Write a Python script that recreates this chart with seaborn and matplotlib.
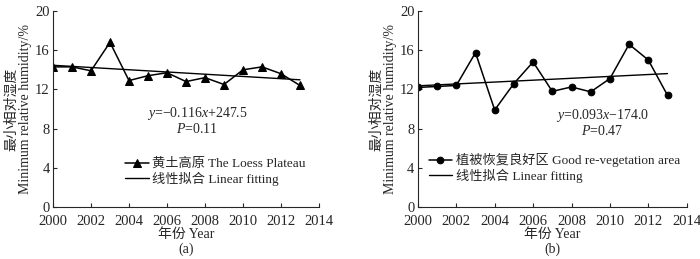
import matplotlib
matplotlib.use("Agg")
import matplotlib.pyplot as plt
import numpy as np
import pandas as pd
import seaborn as sns

# Data
years = list(range(2000, 2014))
loess = [14.3, 14.3, 13.9, 16.8, 12.9, 13.4, 13.7, 12.8, 13.2, 12.5, 14.0, 14.3, 13.6, 12.4]
good_veg = [12.2, 12.3, 12.4, 15.75, 9.9, 12.6, 14.8, 11.8, 12.25, 11.75, 13.1, 16.6, 15.0, 11.4]

labels_a = ["黄土高原 The Loess Plateau", "线性拟合 Linear fitting"]
labels_b = ["植被恢复良好区 Good re-vegetation area", "线性拟合 Linear fitting"]
eq_a = "$y$=\u22120.116$x$+247.5"
eq_b = "$y$=0.093$x$\u2212174.0"
p_a = "$P$=0.11"
p_b = "$P$=0.47"

sns.set_style("ticks")
plt.rcParams["font.family"] = ["Liberation Serif", "Noto Sans CJK SC"]
plt.rcParams["mathtext.fontset"] = "custom"
plt.rcParams["mathtext.it"] = "Liberation Serif:italic"
plt.rcParams["mathtext.rm"] = "Liberation Serif"
plt.rcParams["font.size"] = 10
plt.rcParams["xtick.direction"] = "in"
plt.rcParams["ytick.direction"] = "in"
plt.rcParams["axes.unicode_minus"] = True

fig = plt.figure(figsize=(7.0, 2.59), dpi=100)
ax_a = fig.add_axes([0.0757, 0.2008, 0.380, 0.7567])
ax_b = fig.add_axes([0.597, 0.2008, 0.384, 0.7567])


def draw_panel(ax, values, marker, msize, labels, eq, ptxt, eq_pos, legend_anchor, tag):
    df = pd.DataFrame({"year": years, "value": values})
    slope, icpt = np.polyfit(df["year"], df["value"], 1)
    df["fit"] = slope * df["year"] + icpt

    sns.lineplot(data=df, x="year", y="value", ax=ax, color="black", lw=1.1,
                 marker=marker, markersize=msize, markeredgecolor="black",
                 label=labels[0])
    sns.lineplot(data=df, x="year", y="fit", ax=ax, color="black", lw=1.0,
                 label=labels[1])

    ax.set_xlim(2000, 2014)
    ax.set_ylim(0, 20)
    ax.set_xticks(range(2000, 2015, 2))
    ax.set_yticks(range(0, 21, 4))
    ax.tick_params(length=3, width=0.8, labelsize=10.5)
    ax.tick_params(axis="x", pad=5.5)
    ax.tick_params(axis="y", pad=2.5)
    for s in ["top", "right"]:
        ax.spines[s].set_visible(False)
    ax.spines["left"].set_linewidth(0.8)
    ax.spines["bottom"].set_linewidth(0.8)

    ax.set_xlabel("年份 Year", fontsize=10, labelpad=0)
    ax.set_ylabel("最小相对湿度\nMinimum relative humidity/%", fontsize=10,
                  labelpad=2, linespacing=1.1)
    ax.text(eq_pos[0], eq_pos[1], eq, ha="center", va="center", fontsize=10)
    ax.text(eq_pos[0], eq_pos[1] - 1.5, ptxt, ha="center", va="center", fontsize=10)
    ax.text(0.5, -0.215, tag, transform=ax.transAxes, ha="center", va="center", fontsize=10)

    ax.legend(loc="lower left", bbox_to_anchor=legend_anchor, frameon=False,
              handlelength=1.8, handletextpad=0.3, labelspacing=0.1,
              borderaxespad=0, borderpad=0.2, fontsize=9.5)


draw_panel(ax_a, loess, "^", 5.5, labels_a, eq_a, p_a, (2007.6, 9.5), (0.26, 0.095), "(a)")
draw_panel(ax_b, good_veg, "o", 4.8, labels_b, eq_b, p_b, (2009.6, 9.3), (0.03, 0.11), "(b)")

fig.savefig("out.png", dpi=100)
